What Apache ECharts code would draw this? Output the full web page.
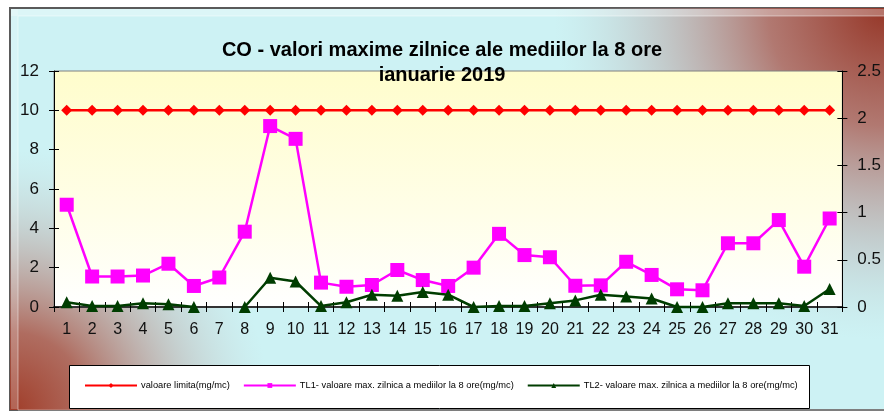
<!DOCTYPE html>
<html>
<head>
<meta charset="utf-8">
<script src="https://cdn.jsdelivr.net/npm/echarts@6/dist/echarts.min.js"></script>
<style>
  html, body { margin: 0; padding: 0; background: #fff; }
  #chart { width: 884px; height: 412px; }
</style>
</head>
<body>
<div id="chart"></div>
<script>
const days = [];
for (let d = 1; d <= 31; d++) days.push(String(d));

// mg/mc, left axis
const limitValues = [10, 10, 10, 10, 10, 10, 10, 10, 10, 10, 10, 10, 10, 10, 10, 10,
  10, 10, 10, 10, 10, 10, 10, 10, 10, 10, 10, 10, 10, 10, 10];
const tl1Values = [5.2, 1.55, 1.55, 1.6, 2.2, 1.07, 1.5, 3.83, 9.2, 8.55, 1.24, 1.03, 1.12, 1.88,
  1.37, 1.07, 2.0, 3.72, 2.64, 2.53, 1.08, 1.1, 2.3, 1.63, 0.9, 0.85, 3.24, 3.24, 4.42, 2.05, 4.5];
// right axis, day 7 missing
const tl2Values = [0.05, 0.01, 0.01, 0.04, 0.03, 0, null, 0, 0.31, 0.27, 0.01, 0.05, 0.13, 0.12,
  0.16, 0.13, 0, 0.01, 0.01, 0.04, 0.07, 0.13, 0.11, 0.09, 0, 0, 0.04, 0.04, 0.04, 0.01, 0.19];

const leftTicks = [0, 12, 2];
const rightTicks = [0, 2.5, 0.5];

const seriesNames = [
  'valoare limita(mg/mc)',
  'TL1- valoare max. zilnica a mediilor la 8 ore(mg/mc)',
  'TL2- valoare max. zilnica a mediilor la 8 ore(mg/mc)'
];

const FONT = '"Liberation Sans", Arial, sans-serif';

function tickAxis(pos, range) {
  // second axis only to get ticks crossing the axis line
  return {
    type: 'value', position: pos, min: range[0], max: range[1], interval: range[2],
    axisLine: { show: false },
    axisTick: { show: true, inside: true, length: 5, lineStyle: { color: '#000' } },
    axisLabel: { show: false },
    splitLine: { show: false }
  };
}

const chart = echarts.init(document.getElementById('chart'));

chart.setOption({
  animation: false,
  textStyle: { fontFamily: FONT },
  graphic: [
    {
      type: 'rect', z: -10, silent: true,
      shape: { x: 10, y: 8, width: 890, height: 402 },
      style: { fill: '#cdf2f4', stroke: '#5a5a5a', lineWidth: 2 }
    },
    {
      type: 'rect', z: -9, silent: true,
      shape: { x: 10, y: 8, width: 890, height: 402 },
      style: {
        fill: {
          type: 'radial', x: 884, y: 10, r: 330, global: true,
          colorStops: [
            { offset: 0, color: 'rgba(150,55,40,1)' },
            { offset: 0.35, color: 'rgba(170,90,80,0.8)' },
            { offset: 0.75, color: 'rgba(180,150,150,0.3)' },
            { offset: 1, color: 'rgba(190,200,200,0)' }
          ]
        }
      }
    },
    {
      type: 'rect', z: -9, silent: true,
      shape: { x: 10, y: 8, width: 890, height: 402 },
      style: {
        fill: {
          type: 'radial', x: 10, y: 410, r: 260, global: true,
          colorStops: [
            { offset: 0, color: 'rgba(160,60,40,1)' },
            { offset: 0.3, color: 'rgba(170,85,70,0.85)' },
            { offset: 0.7, color: 'rgba(185,150,145,0.35)' },
            { offset: 1, color: 'rgba(200,200,200,0)' }
          ]
        }
      }
    },
    {
      type: 'rect', z: -8, silent: true,
      shape: { x: 18, y: 16, width: 876, height: 394 },
      style: { fill: null, stroke: 'rgba(255,255,255,0.45)', lineWidth: 1 }
    },
    {
      type: 'rect', z: -8, silent: true,
      shape: { x: 11, y: 9, width: 880, height: 7 },
      style: { fill: 'rgba(255,255,255,0.3)' }
    },
    {
      type: 'rect', z: -8, silent: true,
      shape: { x: 11, y: 9, width: 7, height: 400 },
      style: { fill: 'rgba(255,255,255,0.2)' }
    },
    {
      type: 'rect', z: 1, silent: true,
      shape: { x: 69.5, y: 365.5, width: 740, height: 43 },
      style: { fill: '#fff', stroke: '#000', lineWidth: 1 }
    }
  ],
  title: {
    text: 'CO - valori maxime zilnice ale mediilor la 8 ore\nianuarie 2019',
    left: 'center',
    top: 38,
    padding: 0,
    textStyle: { fontFamily: FONT, fontSize: 20, fontWeight: 'bold', color: '#000', lineHeight: 25 }
  },
  legend: {
    left: 84,
    top: 381,
    padding: 0,
    itemWidth: 52,
    itemHeight: 6,
    itemGap: 13,
    data: seriesNames,
    textStyle: { fontFamily: FONT, fontSize: 9.3, color: '#000', padding: [0, 0, 0, -1] }
  },
  grid: {
    left: 54, right: 37, top: 71, bottom: 105,
    show: true,
    borderColor: '#808080',
    borderWidth: 1,
    backgroundColor: {
      type: 'linear', x: 0, y: 0, x2: 0, y2: 1,
      colorStops: [
        { offset: 0, color: '#fffdcc' },
        { offset: 0.6, color: '#fffee8' },
        { offset: 1, color: '#ffffff' }
      ]
    }
  },
  xAxis: [
    {
      type: 'category', data: days, position: 'bottom',
      axisLine: { lineStyle: { color: '#333', width: 2 } },
      axisTick: { show: true, length: 5, lineStyle: { color: '#000' } },
      axisLabel: { interval: 0, fontSize: 16, color: '#111', margin: 15, fontFamily: FONT }
    },
    {
      type: 'category', data: days, position: 'bottom',
      axisLine: { show: false },
      axisTick: { show: true, inside: true, length: 5, lineStyle: { color: '#000' } },
      axisLabel: { show: false }
    }
  ],
  yAxis: [
    {
      type: 'value', position: 'left',
      min: leftTicks[0], max: leftTicks[1], interval: leftTicks[2],
      axisLine: { show: true, lineStyle: { color: '#000', width: 1 } },
      axisTick: { show: true, length: 5, lineStyle: { color: '#000' } },
      axisLabel: { fontSize: 17, color: '#111', margin: 15, fontFamily: FONT },
      splitLine: { show: false }
    },
    {
      type: 'value', position: 'right',
      min: rightTicks[0], max: rightTicks[1], interval: rightTicks[2],
      axisLine: { show: true, lineStyle: { color: '#000', width: 1 } },
      axisTick: { show: true, length: 5, lineStyle: { color: '#000' } },
      axisLabel: { fontSize: 17, color: '#111', margin: 15, fontFamily: FONT },
      splitLine: { show: false }
    },
    tickAxis('left', leftTicks),
    tickAxis('right', rightTicks)
  ],
  series: [
    {
      name: seriesNames[0], type: 'line', yAxisIndex: 0, data: limitValues,
      symbol: 'diamond', symbolSize: 11, clip: false,
      lineStyle: { color: '#ff0000', width: 2.5 },
      itemStyle: { color: '#ff0000' }
    },
    {
      name: seriesNames[1], type: 'line', yAxisIndex: 0, data: tl1Values,
      symbol: 'rect', symbolSize: 14, clip: false,
      lineStyle: { color: '#ff00ff', width: 2.5 },
      itemStyle: { color: '#ff00ff' }
    },
    {
      name: seriesNames[2], type: 'line', yAxisIndex: 1, data: tl2Values,
      symbol: 'triangle', symbolSize: 12, clip: false, connectNulls: false,
      lineStyle: { color: '#003d00', width: 2.5 },
      itemStyle: { color: '#003d00' }
    }
  ]
});
</script>
</body>
</html>
